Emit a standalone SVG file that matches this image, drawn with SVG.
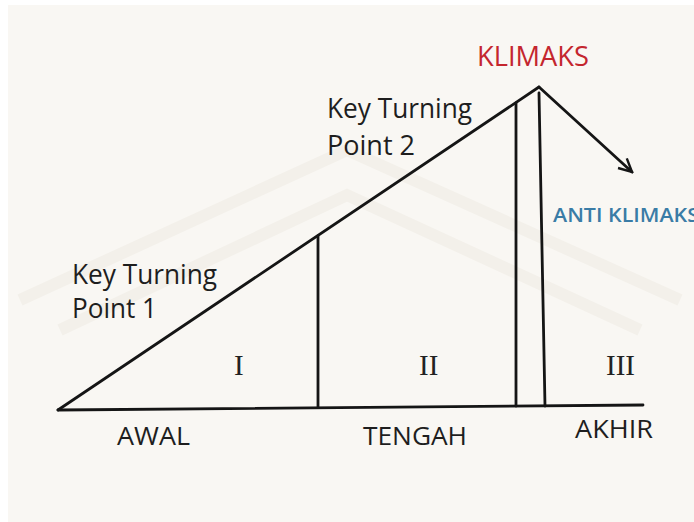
<svg xmlns="http://www.w3.org/2000/svg" width="694" height="522" viewBox="0 0 694 522">
<style>
.ln{stroke:#151515;stroke-width:2.8;fill:none;stroke-linecap:round;stroke-linejoin:round}
.lbl{font-family:"Open Sans","Noto Sans","Liberation Sans",sans-serif;fill:#1e1e1e}
.rom{font-family:"Liberation Serif","DejaVu Serif",serif;fill:#222;font-size:29px}
.wm{fill:none;stroke:#f3f0ea;stroke-width:12}
</style>
<defs>
<marker id="arr" viewBox="0 0 16 16" refX="14" refY="8" markerWidth="16" markerHeight="16" markerUnits="userSpaceOnUse" orient="auto">
<path d="M1,1.5 L14,8 L1,14.5" fill="none" stroke="#151515" stroke-width="2.4"/>
</marker>
</defs>
<rect width="694" height="522" fill="#ffffff"/>
<rect x="8" y="5" width="686" height="517" fill="#f9f7f3"/>
<g id="watermark">
<path class="wm" d="M20,300 L347,150 L680,300"/>
<path class="wm" d="M60,330 L347,195 L640,330"/>
</g>
<g id="connectors">
<line class="ln" x1="58" y1="410" x2="643" y2="405"/>
<line class="ln" x1="58" y1="410" x2="539" y2="87"/>
<line class="ln" x1="318" y1="236" x2="318" y2="407"/>
<line class="ln" x1="516" y1="103" x2="516" y2="406"/>
<line class="ln" x1="539" y1="93" x2="545" y2="406"/>
<line class="ln" x1="539" y1="87" x2="632" y2="172" marker-end="url(#arr)"/>
</g>
<g id="klimaks"><text class="lbl" x="477" y="66" font-size="27" style="fill:#c4262e" textLength="112" lengthAdjust="spacingAndGlyphs">KLIMAKS</text></g>
<g id="anti-klimaks"><text class="lbl" x="553" y="222" font-size="20" font-weight="600" style="fill:#3a7ca6" textLength="146" lengthAdjust="spacingAndGlyphs">ANTI KLIMAKS</text></g>
<g id="ktp2"><text class="lbl" font-size="27"><tspan x="327" y="118" textLength="145" lengthAdjust="spacingAndGlyphs">Key Turning</tspan><tspan x="327" y="155" textLength="88" lengthAdjust="spacingAndGlyphs">Point 2</tspan></text></g>
<g id="ktp1"><text class="lbl" font-size="27"><tspan x="72" y="284" textLength="145" lengthAdjust="spacingAndGlyphs">Key Turning</tspan><tspan x="72" y="318" textLength="85" lengthAdjust="spacingAndGlyphs">Point 1</tspan></text></g>
<g id="sec1"><text class="rom" x="234" y="375">I</text></g>
<g id="sec2"><text class="rom" x="419" y="375">II</text></g>
<g id="sec3"><text class="rom" x="606" y="375">III</text></g>
<g id="awal"><text class="lbl" x="117" y="445" font-size="26" textLength="73" lengthAdjust="spacingAndGlyphs">AWAL</text></g>
<g id="tengah"><text class="lbl" x="363" y="445" font-size="26" textLength="104" lengthAdjust="spacingAndGlyphs">TENGAH</text></g>
<g id="akhir"><text class="lbl" x="575" y="438" font-size="26" textLength="78" lengthAdjust="spacingAndGlyphs">AKHIR</text></g>
</svg>
